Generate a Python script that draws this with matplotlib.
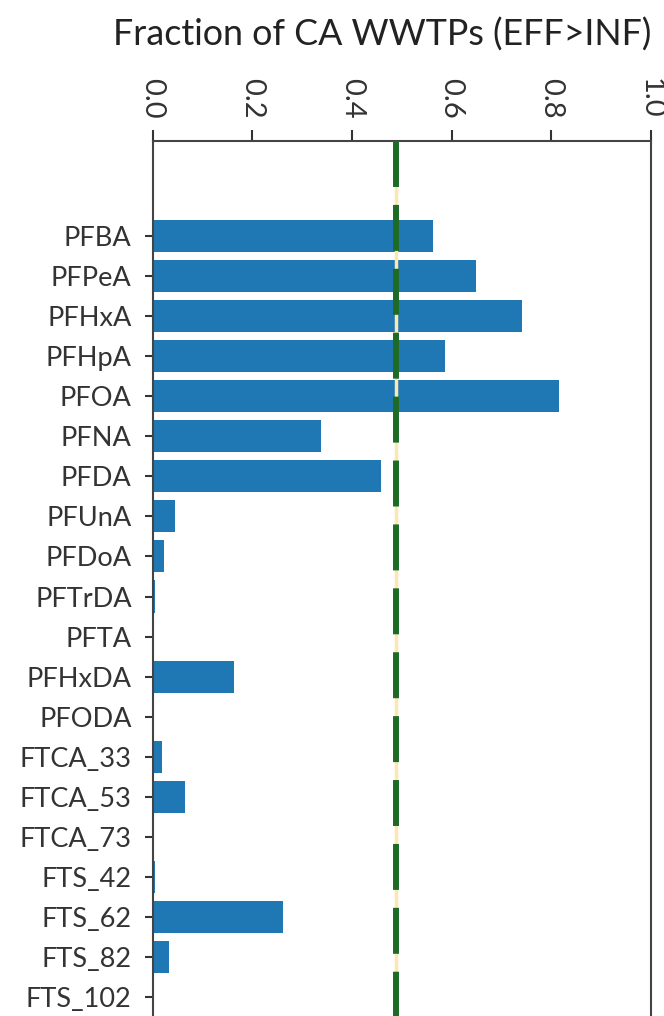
import numpy as np
import matplotlib.pyplot as plt

plt.rcParams['font.family'] = ['Lato', 'DejaVu Sans']

compounds = ['PFBA', 'PFPeA', 'PFHxA', 'PFHpA', 'PFOA', 'PFNA', 'PFDA', 'PFUnA',
             'PFDoA', 'PFTrDA', 'PFTA', 'PFHxDA', 'PFODA', 'FTCA_33', 'FTCA_53',
             'FTCA_73', 'FTS_42', 'FTS_62', 'FTS_82', 'FTS_102']
frac_eff_gt_inf = [0.563, 0.648, 0.741, 0.586, 0.815, 0.337, 0.459, 0.046,
                   0.023, 0.005, 0.0, 0.164, 0.0, 0.020, 0.065,
                   0.0, 0.005, 0.262, 0.034, 0.0]
half_line = 0.488

fig = plt.figure(figsize=(6.64, 10.16), dpi=100)
# axes runs past the bottom edge so the lower spine is cut off
ax = fig.add_axes([0.2297, -0.0236, 0.7507, 0.8848])

ypos = np.arange(len(compounds))
ax.barh(ypos, frac_eff_gt_inf, height=0.8, color='#1f77b4')

# reference line at ~half of the plants, dashes starting from the top
ax.plot([half_line, half_line], [1, 0], transform=ax.get_xaxis_transform(),
        color='#fde6b0', lw=2.5, zorder=3)
ax.plot([half_line, half_line], [1, 0], transform=ax.get_xaxis_transform(),
        color='#1e6b27', lw=4.3, dashes=(7.7, 3.0), zorder=4)

ax.set_xlim(0, 1.0)
ax.set_ylim(20.07, -2.37)
ax.set_yticks(ypos)
ax.set_yticklabels(compounds, fontsize=19.5, color='#2a2a2a')

ax.xaxis.tick_top()
ax.set_xticks([0.0, 0.2, 0.4, 0.6, 0.8, 1.0])
ax.set_xticklabels(['0.0', '0.2', '0.4', '0.6', '0.8', '1.0'], rotation=-90,
                   fontsize=21, color='#2a2a2a')
ax.tick_params(axis='y', length=6, width=1.5, pad=9, colors='#333333')
ax.tick_params(axis='x', length=8, width=1.5, pad=8, colors='#333333')
for sp in ax.spines.values():
    sp.set_color('#444444')
    sp.set_linewidth(1.5)

fig.text(0.576, 0.9656, 'Fraction of CA WWTPs (EFF>INF)', ha='center', va='center',
         fontsize=25.8, color='#222222')

fig.savefig('out.png', dpi=100)
